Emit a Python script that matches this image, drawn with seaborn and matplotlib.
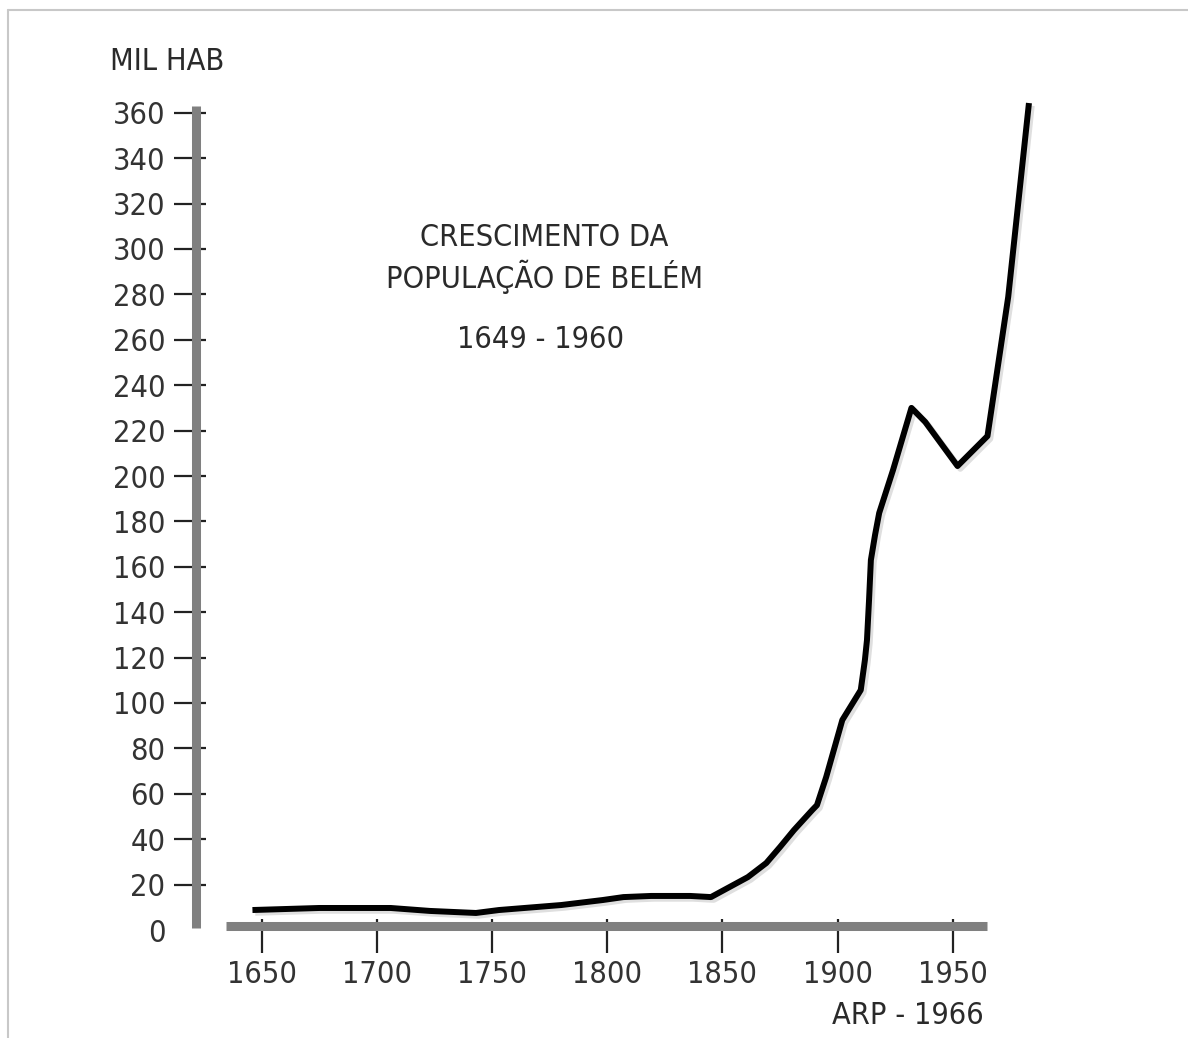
import matplotlib
matplotlib.use("Agg")
import matplotlib.pyplot as plt
import matplotlib.patheffects as pe
from matplotlib.lines import Line2D
import pandas as pd
import seaborn as sns

# Population of Belem (thousand inhabitants)
years = [1646, 1675, 1706, 1723, 1743, 1753, 1780, 1798, 1807, 1819, 1836, 1845,
         1853, 1861, 1869, 1875, 1881, 1889, 1891, 1895, 1902, 1910, 1911.8, 1912.7,
         1913.6, 1914.4, 1916.2, 1918, 1924, 1932, 1938, 1952, 1965, 1974, 1983]
population = [8.8, 9.7, 9.7, 8.4, 7.5, 8.8, 11.0, 13.2, 14.5, 15.0, 15.0, 14.5,
              18.9, 23.3, 29.5, 36.6, 44.0, 52.9, 55.0, 67.4, 92.5, 105.7, 118.9, 127.7,
              145.4, 163.0, 174.0, 183.7, 202.6, 230.0, 223.8, 204.4, 217.6, 278.9, 364.3]

x_ticks = [1650, 1700, 1750, 1800, 1850, 1900, 1950]
y_ticks = list(range(0, 361, 20))

df = pd.DataFrame({"ano": years, "populacao": population})

W, H = 1188, 1038
sns.set_style("white")
plt.rcParams["font.family"] = ["DejaVu Sans"]
plt.rcParams["font.stretch"] = "condensed"

fig = plt.figure(figsize=(W / 100, H / 100), dpi=100)
fig.patch.set_facecolor("white")
ax = fig.add_axes([169.5 / W, 1 - 941.35 / H, 887.1 / W, 862.6 / H])
ax.set_facecolor("none")

sns.lineplot(data=df, x="ano", y="populacao", ax=ax, color="black", linewidth=4.3,
             estimator=None, sort=False,
             path_effects=[pe.SimpleLineShadow(offset=(2, -2), shadow_color="gray", alpha=0.25),
                           pe.Normal()])
ax.lines[0].set_solid_joinstyle("round")
ax.lines[0].set_solid_capstyle("butt")

ax.set_xlim(1610, 1995)
ax.set_ylim(-5, 375)

# Axes drawn as thick gray bars
spine_gray = "#808080"
for side in ["top", "right"]:
    ax.spines[side].set_visible(False)
ax.spines["left"].set_position(("data", 1621.5))
ax.spines["left"].set_bounds(1, 363)
ax.spines["bottom"].set_position(("data", 1.8))
ax.spines["bottom"].set_bounds(1634.5, 1964.8)
for side in ["left", "bottom"]:
    ax.spines[side].set_color(spine_gray)
    ax.spines[side].set_linewidth(6.5)
    ax.spines[side].set_capstyle("butt")
    ax.spines[side].set_zorder(1)

ax.set_xticks(x_ticks)
ax.set_xticks(x_ticks, minor=True)
ax.set_yticks(y_ticks)
ax.set_yticks(y_ticks, minor=True)
ax.xaxis.remove_overlapping_locs = False
ax.yaxis.remove_overlapping_locs = False
ax.set_yticklabels([str(v) for v in y_ticks])
ax.set_xticklabels([str(v) for v in x_ticks])

ax.tick_params(axis="y", which="major", direction="out", length=16, width=1.6,
               color="#222222", pad=6, labelsize=22, labelcolor="#333333", left=True)
ax.tick_params(axis="y", which="minor", direction="in", length=7, width=1.6,
               color="#222222", left=True)
ax.tick_params(axis="x", which="major", direction="out", length=19.5, width=1.6,
               color="#222222", pad=5, labelsize=22, labelcolor="#333333", bottom=True)
ax.tick_params(axis="x", which="minor", direction="in", length=5, width=1.6,
               color="#222222", bottom=True)
# no tick mark at zero
ax.yaxis.get_major_ticks()[0].tick1line.set_visible(False)
ax.yaxis.get_minor_ticks()[0].tick1line.set_visible(False)

ax.set_xlabel("")
ax.set_ylabel("")

txt = "#2a2a2a"
fig.text(110 / W, 1 - 62 / H, "MIL HAB", fontsize=22, color=txt, ha="left", va="center")
fig.text(544 / W, 1 - 238 / H, "CRESCIMENTO DA", fontsize=22, color=txt, ha="center", va="center")
fig.text(544 / W, 1 - 277 / H, "POPULAÇÃO DE BELÉM", fontsize=22, color=txt, ha="center", va="center")
fig.text(541 / W, 1 - 339 / H, "1649 - 1960", fontsize=22, color=txt, ha="center", va="center")
fig.text(984 / W, 1 - 1015 / H, "ARP - 1966", fontsize=22, color=txt, ha="right", va="center")

# light frame around the picture
fig.add_artist(Line2D([8 / W, 1], [1 - 10 / H, 1 - 10 / H], color="#c8c8c8", linewidth=1.5))
fig.add_artist(Line2D([8 / W, 8 / W], [0, 1 - 10 / H], color="#c8c8c8", linewidth=1.5))

fig.savefig("out.png", dpi=100, facecolor="white")
